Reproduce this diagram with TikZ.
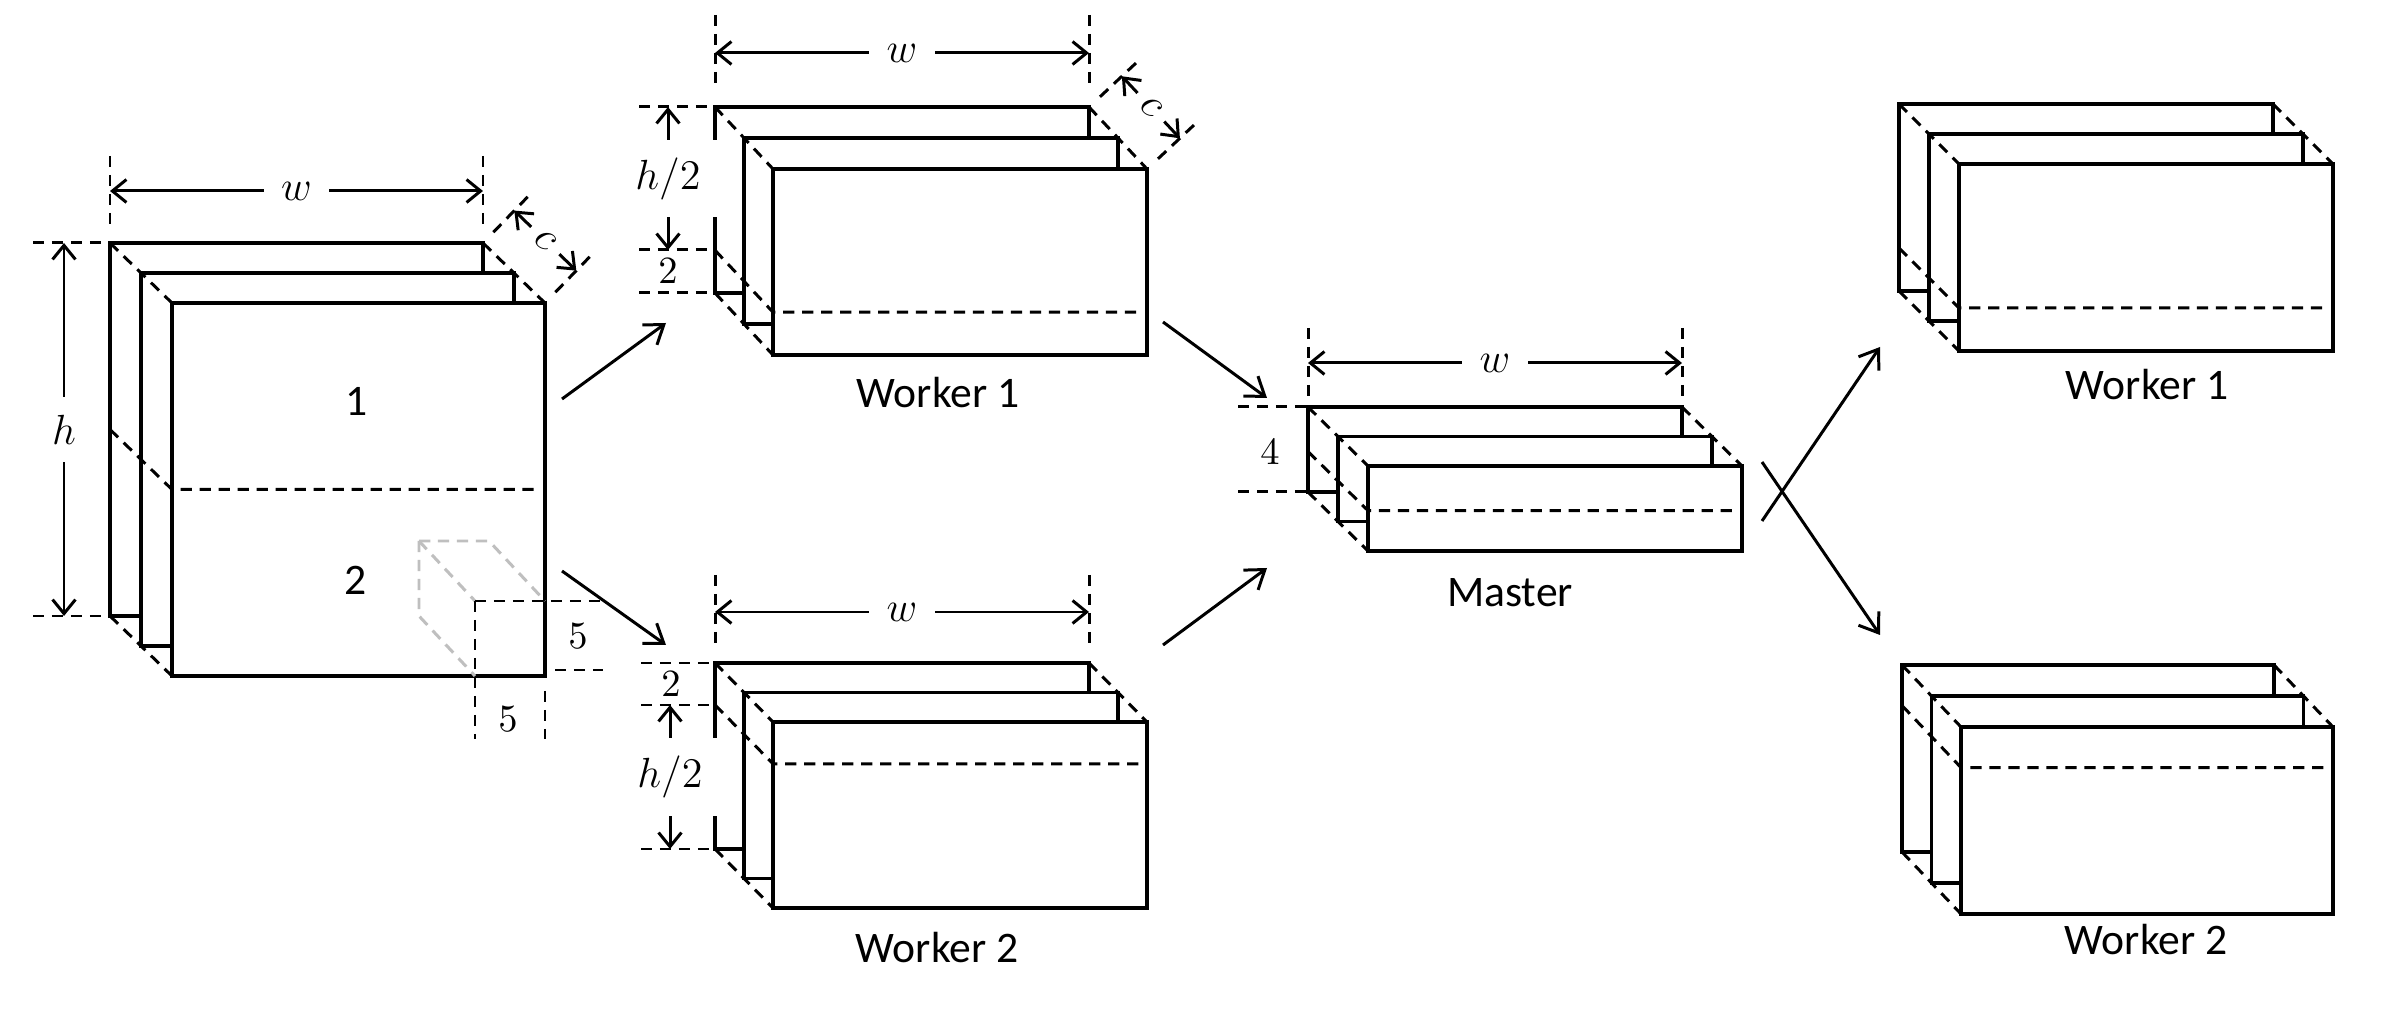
\documentclass[tikz,border=0pt]{standalone}
\usepackage{fontspec}
\setmainfont{Carlito}
\usetikzlibrary{arrows.meta}
\tikzset{
  panelbox/.style={draw=black, fill=white, line width=0.95pt},
  dashline/.style={draw=black, line width=0.85pt, dash pattern=on 3.2pt off 2.2pt},
  grayline/.style={draw=black!25, line width=0.85pt, dash pattern=on 3.2pt off 2.2pt},
  dimarr/.style={draw=black, line width=0.85pt, {Straight Barb[length=4pt,width=6.5pt]}-{Straight Barb[length=4pt,width=6.5pt]}},
  flowarr/.style={draw=black, line width=0.85pt, -{Straight Barb[length=5pt,width=7pt]}},
  dimlbl/.style={fill=white, inner sep=5pt, font=\fontsize{11.5}{13}\selectfont},
  numlbl/.style={inner sep=0pt, font=\fontsize{11}{13}\selectfont},
  namelbl/.style={anchor=base, inner sep=0pt, font=\fontsize{12.4}{14}\selectfont},
}
% #1 x0, #2 y0 (back panel top-left), #3 W, #4 H, #5 dx, #6 dy, #7 fraction of dashed line
\newcommand\drawstack[7]{%
  \draw[panelbox] (#1,#2) rectangle ++(#3,#4);
  \draw[panelbox] ({#1+#5},{#2+#6}) rectangle ++(#3,#4);
  \draw[panelbox] ({#1+2*#5},{#2+2*#6}) rectangle ++(#3,#4);
  \draw[dashline] (#1,#2) -- ++({2*#5},{2*#6});
  \draw[dashline] ({#1+#3},#2) -- ++({2*#5},{2*#6});
  \draw[dashline] (#1,{#2+#4}) -- ++({2*#5},{2*#6});
  \draw[dashline] (#1,{#2+#7*#4}) -- ++({2*#5},{2*#6}) -- ++({#3-5},0);
}
\begin{document}
\begin{tikzpicture}[x=0.01cm, y=-0.01cm]
\useasboundingbox (0,0) rectangle (2396,1022);

% ---------------- big input stack ----------------
\drawstack{110}{243}{373}{373}{31}{30}{0.5}
% grey kernel
\draw[grayline] (419,541) -- (489,541) -- (545,601);
\draw[grayline] (419,541) -- (419,616) -- (475,676);
\draw[grayline] (419,541) -- (475,601);
\draw[dashline] (475,601) -- (475,739);
\draw[dashline] (475,601) -- (603,601);
\draw[dashline] (555,670) -- (603,670);
\draw[dashline] (545,691) -- (545,739);
\node[numlbl] (k5a) at (578,636) {$5$};
\node[numlbl] (k5b) at (508,719) {$5$};
\node[namelbl] (p1) at (356.6,415.5) {1};
\node[namelbl] (p2) at (355.7,594.6) {2};
% w
\draw[dashline] (110,156) -- (110,227);
\draw[dashline] (483,156) -- (483,227);
\draw[dimarr] (110,191) -- node[dimlbl] (bw) {$w$} (483,191);
% h
\draw[dashline] (33,243) -- (110,243);
\draw[dashline] (33,616) -- (110,616);
\draw[dimarr] (64,243) -- node[dimlbl] (bh) {$h$} (64,616);
% c
\draw[dashline] (493.4,232.2) -- (531.7,192.7);
\draw[dashline] (555.4,292.2) -- (593.7,252.7);
\draw[dimarr] (514.3,210.6) -- node[dimlbl, inner sep=3pt, rotate=-44] (bc) {$c$} (576.3,270.6);

% ---------------- worker 1 (middle) ----------------
\drawstack{715}{107}{374}{186}{29}{31}{0.77}
\draw[dashline] (715,15) -- (715,87);
\draw[dashline] (1089,15) -- (1089,87);
\draw[dimarr] (715,53) -- node[dimlbl] (w1w) {$w$} (1089,53);
\draw[dashline] (1100,96.8) -- (1138.6,60.6);
\draw[dashline] (1158,158.8) -- (1196.6,122.6);
\draw[dimarr] (1121.9,76.3) -- node[dimlbl, inner sep=3pt, rotate=-47] (w1c) {$c$} (1179.9,138.3);
\draw[dashline] (639,107) -- (715,107);
\draw[dashline] (639,250) -- (715,250);
\draw[dashline] (639,293) -- (715,293);
\draw[dimarr] (668,107) -- node[dimlbl] (w1h) {$h/2$} (668,250);
\node[numlbl] (w1two) at (668,271.5) {$2$};
\node[namelbl] (w1lbl) at (938,408) {Worker 1};

% ---------------- worker 2 (middle) ----------------
\drawstack{715}{663}{374}{186}{29}{29.5}{0.225}
\draw[dashline] (715,575) -- (715,648);
\draw[dashline] (1089,575) -- (1089,648);
\draw[dimarr] (715,612) -- node[dimlbl] (w2w) {$w$} (1089,612);
\draw[dashline] (641,663) -- (715,663);
\draw[dashline] (641,705) -- (715,705);
\draw[dashline] (641,849) -- (715,849);
\node[numlbl] (w2two) at (671,684) {$2$};
\draw[dimarr] (670,705) -- node[dimlbl] (w2h) {$h/2$} (670,849);
\node[namelbl] (w2lbl) at (937,962) {Worker 2};

% ---------------- master ----------------
\drawstack{1308}{407}{374}{85}{30}{29.5}{0.525}
\draw[dashline] (1308,328) -- (1308,400);
\draw[dashline] (1682,328) -- (1682,400);
\draw[dimarr] (1308,363) -- node[dimlbl] (mw) {$w$} (1682,363);
\draw[dashline] (1238,407) -- (1308,407);
\draw[dashline] (1238,492) -- (1308,492);
\node[numlbl] (mfour) at (1270,452) {$4$};
\node[namelbl] (mlbl) at (1510,607) {Master};

% ---------------- right workers ----------------
\drawstack{1899}{104}{374}{187}{30}{30}{0.77}
\node[namelbl] (rw1lbl) at (2147,400) {Worker 1};
\drawstack{1902}{665}{372}{187}{29.5}{31}{0.217}
\node[namelbl] (rw2lbl) at (2146,955) {Worker 2};

% ---------------- flow arrows ----------------
\coordinate (a1s) at (562,399);  \coordinate (a1e) at (666,323);
\coordinate (a2s) at (562,571);  \coordinate (a2e) at (666,645);
\coordinate (a3s) at (1163,322); \coordinate (a3e) at (1267,398);
\coordinate (a4s) at (1163,645); \coordinate (a4e) at (1267,568);
\coordinate (a5s) at (1762,521); \coordinate (a5e) at (1880,347);
\coordinate (a6s) at (1762,462); \coordinate (a6e) at (1880,635);
\draw[flowarr] (a1s) -- (a1e);
\draw[flowarr] (a2s) -- (a2e);
\draw[flowarr] (a3s) -- (a3e);
\draw[flowarr] (a4s) -- (a4e);
\draw[flowarr] (a5s) -- (a5e);
\draw[flowarr] (a6s) -- (a6e);
\end{tikzpicture}
\end{document}
